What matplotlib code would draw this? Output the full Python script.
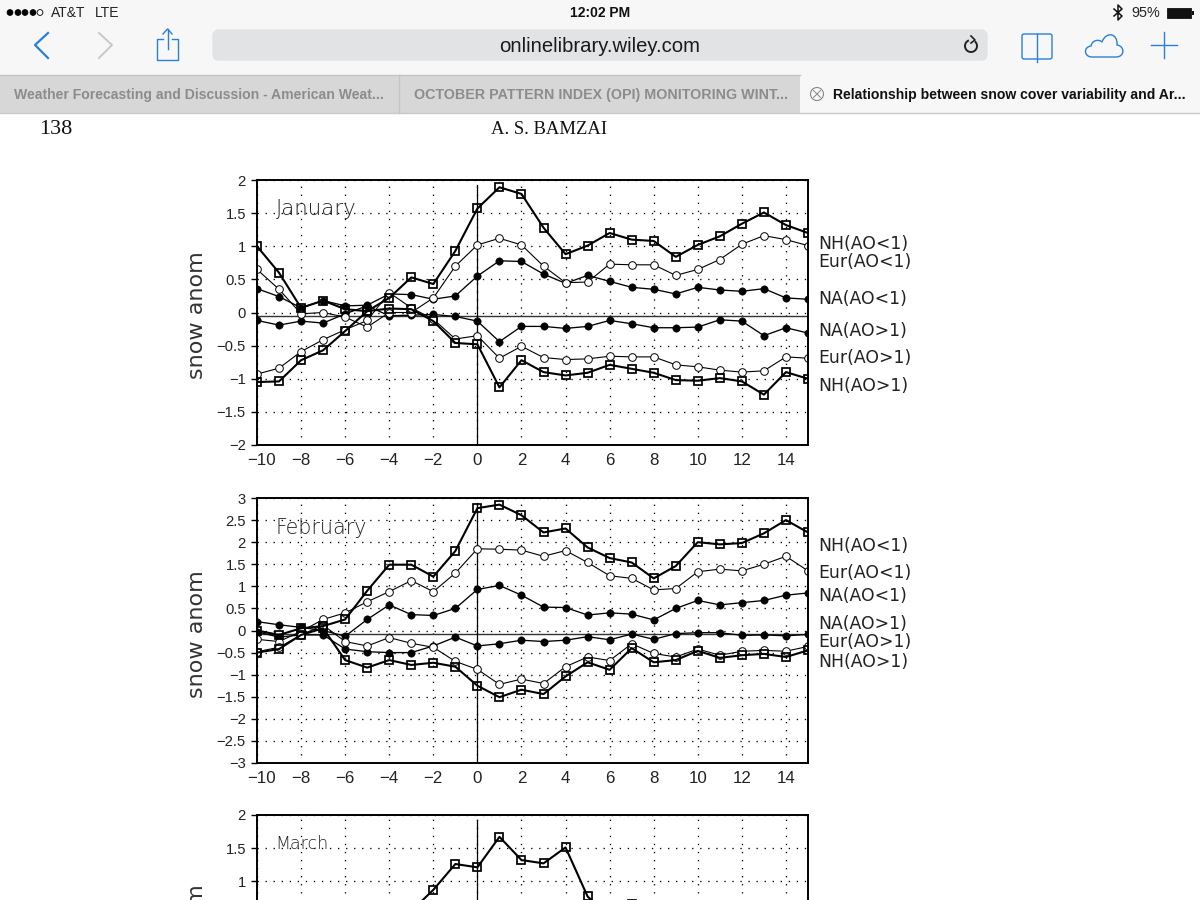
import matplotlib
matplotlib.use("Agg")
import matplotlib.pyplot as plt
from matplotlib.patches import FancyBboxPatch, Rectangle, Circle, PathPatch, Arc
from matplotlib.path import Path
from matplotlib.transforms import ScaledTranslation

W, H = 1200, 900

lag = list(range(-10, 16))
ticks_x = [-10, -8, -6, -4, -2, 0, 2, 4, 6, 8, 10, 12, 14]

jan_nh_lo = [1.0, .6, .07, .18, .05, .02, .22, .53, .43, .93, 1.57, 1.89, 1.79, 1.28, .88, 1.01, 1.2, 1.1, 1.08, .84, 1.02, 1.15, 1.34, 1.51, 1.32, 1.2]
jan_eur_lo = [.65, .35, -.02, 0, -.07, -.22, 0, 0, .22, .7, 1.02, 1.12, 1.02, .7, .45, .46, .73, .72, .72, .56, .65, .8, 1.03, 1.16, 1.1, 1.01]
jan_na_lo = [.36, .24, .07, .18, .1, .11, .28, .27, .2, .25, .55, .78, .77, .58, .44, .56, .47, .38, .35, .28, .38, .34, .32, .36, .22, .2]
jan_na_hi = [-.12, -.19, -.13, -.16, -.02, .1, -.05, -.04, -.03, -.06, -.13, -.44, -.21, -.21, -.24, -.21, -.12, -.17, -.23, -.23, -.22, -.11, -.13, -.35, -.23, -.31]
jan_eur_hi = [-.93, -.84, -.59, -.41, -.26, -.12, .3, .07, -.1, -.4, -.35, -.69, -.51, -.68, -.71, -.7, -.66, -.67, -.67, -.79, -.82, -.87, -.9, -.88, -.67, -.69]
jan_nh_hi = [-1.05, -1.04, -.72, -.57, -.28, .02, .06, .05, -.13, -.46, -.48, -1.13, -.72, -.9, -.95, -.91, -.79, -.85, -.91, -1.02, -1.03, -.99, -1.04, -1.24, -.9, -1.0]

feb_nh_lo = [0, -.1, .05, .1, .25, .9, 1.49, 1.49, 1.22, 1.8, 2.77, 2.85, 2.61, 2.22, 2.31, 1.88, 1.64, 1.54, 1.18, 1.46, 2.0, 1.95, 1.98, 2.2, 2.5, 2.22]
feb_eur_lo = [-.2, -.25, -.02, .25, .4, .65, .88, 1.13, .88, 1.3, 1.85, 1.84, 1.82, 1.68, 1.81, 1.54, 1.24, 1.18, .92, .95, 1.33, 1.39, 1.35, 1.5, 1.68, 1.35]
feb_na_lo = [.2, .13, .07, 0, -.13, .25, .58, .36, .34, .5, .93, 1.02, .8, .53, .52, .35, .4, .37, .24, .5, .68, .58, .63, .68, .8, .85]
feb_na_hi = [-.03, -.15, -.1, -.1, -.42, -.48, -.5, -.5, -.35, -.15, -.35, -.3, -.22, -.25, -.22, -.14, -.21, -.08, -.2, -.07, -.05, -.05, -.11, -.1, -.12, -.09]
feb_eur_hi = [-.48, -.38, -.1, .12, -.25, -.35, -.16, -.29, -.38, -.7, -.88, -1.22, -1.1, -1.2, -.82, -.6, -.68, -.3, -.52, -.6, -.42, -.56, -.47, -.45, -.47, -.36]
feb_nh_hi = [-.5, -.42, -.1, .05, -.67, -.84, -.67, -.78, -.73, -.82, -1.25, -1.51, -1.34, -1.44, -1.04, -.72, -.89, -.4, -.72, -.67, -.46, -.62, -.56, -.53, -.6, -.45]

mar_lag = [-3, -2, -1, 0, 1, 2, 3, 4, 5, 6, 7, 8]
mar_nh_lo = [.55, .87, 1.26, 1.21, 1.67, 1.32, 1.27, 1.51, .77, .45, .66, .5]

series_style = {
    "nh": dict(marker="s", ms=5.6, mfc="none", mec="black", mew=1.25, lw=1.5, color="black"),
    "eur": dict(marker="o", ms=5.5, mfc="white", mec="black", mew=0.7, lw=0.8, color="black"),
    "na": dict(marker="o", ms=5.3, mfc="black", mec="black", mew=0.4, lw=0.95, color="black"),
}

plt.rcParams["font.family"] = ["DejaVu Sans"]
fig = plt.figure(figsize=(W / 100, H / 100), dpi=100, facecolor="white")


def px_axes(left, top, right, bottom):
    return fig.add_axes([left / W, 1 - bottom / H, (right - left) / W, (bottom - top) / H])


def panel(top, ymax, step, title, title_size, data, labels, ylabel_y, visible_from=None):
    ax = px_axes(257, top, 808, top + 265)
    ax.set_xlim(-10, 15)
    ax.set_ylim(-ymax, ymax)
    n = int(round(2 * ymax / step))
    yt = [-ymax + i * step for i in range(n + 1)]
    ax.set_yticks(yt)
    ylabs = [f"{v:g}".replace("-", "\u2212") for v in yt]
    if visible_from is not None:
        ylabs = [s if v >= visible_from else "" for s, v in zip(ylabs, yt)]
    ax.set_yticklabels(ylabs, fontsize=10.6, family="Liberation Sans", color="#222222")
    ax.set_xticks(ticks_x)
    if visible_from is None:
        ax.set_xticklabels([f"{v}".replace("-", "\u2212") for v in ticks_x], fontsize=12.2,
                           family="Liberation Sans", color="#222222")
    else:
        ax.set_xticklabels([])
    ax.tick_params(axis="y", length=4, width=1, pad=4)
    ax.tick_params(axis="x", length=0, pad=6)
    if visible_from is None:
        first = ax.get_xticklabels()[0]
        first.set_transform(first.get_transform() + ScaledTranslation(5 / 100, 0, fig.dpi_scale_trans))
    ax.grid(True, color="black", lw=.95, linestyle=(0, (1, 5.1)))
    ax.set_axisbelow(True)
    for s in ax.spines.values():
        s.set_linewidth(1.4)
    ax.axhline(-.05 if ymax == 2 else -.08, color="#333333", lw=1)
    ax.plot([0, 0], [-ymax, ymax * .965], color="black", lw=.9)
    for kind, x, y in data:
        ax.plot(x, y, **series_style[kind])
    ax.text(-9.15, ymax * (.775 if ymax != 2 else .78), title, fontsize=title_size, color="#222222",
            va="center", fontweight="light")
    for txt, yy in labels:
        fig.text(818 / W, 1 - (yy + 1) / H, txt, fontsize=12.4, va="center", color="#222222")
    fig.text(197 / W, 1 - ylabel_y / H, "snow anom", rotation=90, fontsize=16, va="center", ha="center", color="#333333")
    return ax


panel(180, 2, .5, "January", 15.4,
      [("na", lag, jan_na_lo), ("na", lag, jan_na_hi),
       ("eur", lag, jan_eur_lo), ("eur", lag, jan_eur_hi),
       ("nh", lag, jan_nh_lo), ("nh", lag, jan_nh_hi)],
      [("NH(AO<1)", 243), ("Eur(AO<1)", 261), ("NA(AO<1)", 298),
       ("NA(AO>1)", 330), ("Eur(AO>1)", 357), ("NH(AO>1)", 385)], 315)
panel(498, 3, .5, "February", 14.9,
      [("na", lag, feb_na_lo), ("na", lag, feb_na_hi),
       ("eur", lag, feb_eur_lo), ("eur", lag, feb_eur_hi),
       ("nh", lag, feb_nh_lo), ("nh", lag, feb_nh_hi)],
      [("NH(AO<1)", 545), ("Eur(AO<1)", 572), ("NA(AO<1)", 595),
       ("NA(AO>1)", 623), ("Eur(AO>1)", 641), ("NH(AO>1)", 661)], 634)
panel(815, 2, .5, "March", 12.6, [("nh", mar_lag, mar_nh_lo)], [], 948, visible_from=1)

# Browser chrome drawn over a pixel-space layer
BLUE = "#2a80d8"
ui = fig.add_axes([0, 0, 1, 1], zorder=10)
ui.set_xlim(0, W)
ui.set_ylim(H, 0)
ui.axis("off")
ui.patch.set_alpha(0)
ui.add_patch(Rectangle((0, 0), W, 75, fc="#f7f7f7", ec="none"))
ui.add_patch(Rectangle((0, 75), 800, 38, fc="#d7d7d7", ec="none"))
ui.add_patch(Rectangle((800, 75), 400, 38, fc="#f7f7f7", ec="none"))
ui.plot([0, 800], [75, 75], color="#c4c4c4", lw=1)
ui.plot([0, W], [113, 113], color="#c8c8c8", lw=1)
ui.plot([399, 399], [75, 113], color="#c4c4c4", lw=1)
ui.add_patch(FancyBboxPatch((213, 30), 774, 30, boxstyle="round,pad=0,rounding_size=6", fc="#e2e3e5", ec="#e2e3e5", lw=1))
ui.plot([48, 35, 48], [33, 45, 58], color=BLUE, lw=1.6)
ui.plot([99, 112, 99], [33, 45, 58], color="#c8c8c8", lw=1.4)
ui.plot([163, 157, 157, 178, 178, 172], [39, 39, 60, 60, 39, 39], color=BLUE, lw=1.0)
ui.plot([167.5, 167.5], [29, 49], color=BLUE, lw=1.0)
ui.plot([163, 167.5, 172], [34, 29, 34], color=BLUE, lw=1.0)
for cx, filled in zip([10, 18, 25, 33, 40], [1, 1, 1, 1, 0]):
    ui.add_patch(Circle((cx, 12.5), 2.9, fc="black" if filled else "none", ec="black", lw=.6))
ui.text(51, 13, "AT&T", fontsize=10, family="Liberation Sans", va="center", color="#222222")
ui.text(95, 13, "LTE", fontsize=10, family="Liberation Sans", va="center", color="#222222")
ui.text(600, 13, "12:02 PM", fontsize=10, family="Liberation Sans", weight="bold", va="center", ha="center", color="#111111")
ui.text(1131, 13, "95%", fontsize=10.4, family="Liberation Sans", va="center", color="#222222")
ui.plot([1114, 1122, 1118, 1118, 1122, 1114], [9, 16, 20, 5, 9, 16], color="#111111", lw=1.1)
ui.add_patch(Rectangle((1167, 8), 24, 10, fc="#111111", ec="#111111", lw=.6))
ui.add_patch(Rectangle((1192, 11), 1.5, 4, fc="#111111", ec="none"))
ui.text(599.5, 46, "onlinelibrary.wiley.com", fontsize=14.6, family="Liberation Sans", va="center", ha="center", color="#1a1a1a")
ui.add_patch(Arc((971, 46), 12, 12, theta1=-50, theta2=250, color="#222222", lw=1.4))
ui.plot([971, 975, 971], [36, 40, 43], color="#222222", lw=1.2)
ui.add_patch(FancyBboxPatch((1022, 34), 30, 25, boxstyle="round,pad=0,rounding_size=2", fc="none", ec=BLUE, lw=1.0))
ui.plot([1037, 1037], [34, 62], color=BLUE, lw=1.0)
cloud = Path(
    [(1092, 57), (1084, 57), (1083, 47), (1091, 46),
     (1092, 40), (1099, 39), (1102, 42),
     (1106, 31), (1118, 33), (1117, 45),
     (1125, 46), (1125, 57), (1116, 57), (1092, 57)],
    [Path.MOVETO, Path.CURVE4, Path.CURVE4, Path.CURVE4,
     Path.CURVE4, Path.CURVE4, Path.CURVE4,
     Path.CURVE4, Path.CURVE4, Path.CURVE4,
     Path.CURVE4, Path.CURVE4, Path.CURVE4, Path.LINETO])
ui.add_patch(PathPatch(cloud, fc="none", ec=BLUE, lw=1.0))
ui.plot([1151, 1177], [45, 45], color=BLUE, lw=1.0)
ui.plot([1164, 1164], [32, 58], color=BLUE, lw=1.0)
ui.text(14, 95, "Weather Forecasting and Discussion - American Weat...", fontsize=10.1, family="Liberation Sans", weight="bold", va="center", color="#8c8c8c")
ui.text(414, 95, "OCTOBER PATTERN INDEX (OPI) MONITORING WINT...", fontsize=10.25, family="Liberation Sans", weight="bold", va="center", color="#8c8c8c")
ui.add_patch(Circle((817, 94), 6.5, fc="none", ec="#888888", lw=.8))
ui.plot([813.5, 820.5], [90.5, 97.5], color="#888888", lw=.7)
ui.plot([813.5, 820.5], [97.5, 90.5], color="#888888", lw=.7)
ui.text(833, 95, "Relationship between snow cover variability and Ar...", fontsize=10.1, family="Liberation Sans", weight="bold", va="center", color="#111111")
ui.text(39, 130, "138", fontsize=16, family="Liberation Serif", va="center", color="#111111")
ui.text(549.5, 129, "A. S. BAMZAI", fontsize=13.4, family="Liberation Serif", va="center", ha="center", color="#111111")

fig.savefig("out.png", dpi=100)
